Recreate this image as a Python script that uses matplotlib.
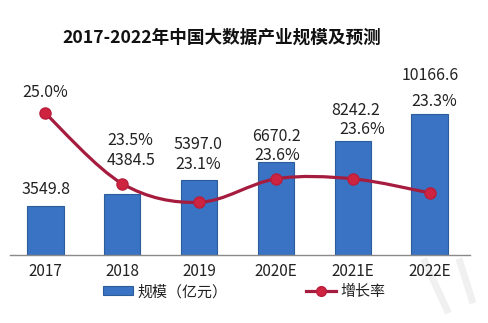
import matplotlib
matplotlib.use("Agg")
import matplotlib.pyplot as plt
import numpy as np
from matplotlib.path import Path
from matplotlib.patches import PathPatch
from matplotlib.lines import Line2D
from matplotlib.patches import Patch

plt.rcParams['font.family'] = ['Noto Sans CJK SC', 'DejaVu Sans']

categories = ["2017", "2018", "2019", "2020E", "2021E", "2022E"]
scale = [3549.8, 4384.5, 5397.0, 6670.2, 8242.2, 10166.6]
growth = [25.0, 23.5, 23.1, 23.6, 23.6, 23.3]
scale_labels = ["3549.8", "4384.5", "5397.0", "6670.2", "8242.2", "10166.6"]
growth_labels = ["25.0%", "23.5%", "23.1%", "23.6%", "23.6%", "23.3%"]

W, H = 488, 323
fig = plt.figure(figsize=(W / 100, H / 100), dpi=100)
L, R, T, B = 10, 470, 90, 255
ax = fig.add_axes([L / W, (H - B) / H, (R - L) / W, (B - T) / H])
ax2 = ax.twinx()

x = np.arange(len(categories))
bar_color = '#3A73C4'
ax.bar(x, scale, width=0.48, color=bar_color, edgecolor='#2C5C9C', linewidth=0.8, zorder=2)
ax.set_xlim(-0.455, 5.52)
ax.set_ylim(0, 11896)
ax2.set_ylim(21.98, 25.49)

# smooth line (Catmull-Rom as Bezier) through data points
pts = np.column_stack([x, growth]).astype(float)
verts = [tuple(pts[0])]
codes = [Path.MOVETO]
n = len(pts)
for i in range(n - 1):
    p0 = pts[max(i - 1, 0)]
    p1 = pts[i]
    p2 = pts[i + 1]
    p3 = pts[min(i + 2, n - 1)]
    c1 = p1 + (p2 - p0) / 6.0
    c2 = p2 - (p3 - p1) / 6.0
    verts += [tuple(c1), tuple(c2), tuple(p2)]
    codes += [Path.CURVE4] * 3
line_color = '#A51C3E'
ax2.add_patch(PathPatch(Path(verts, codes), facecolor='none', edgecolor=line_color, lw=2.3, zorder=3))
ax2.plot(x, growth, linestyle='none', marker='o', markersize=8, markerfacecolor='#CE2440',
         markeredgecolor='#B81E3C', zorder=4)

fs = 11.5
tc = '#222222'
# bar value labels: (dx in category units, dy offset in points)
bar_lab_off = [(0.01, 12), (0.12, 24), (-0.02, 26), (0.0, 19), (0.04, 22), (0.0, 28)]
for i, (dx, dy) in enumerate(bar_lab_off):
    ax.annotate(scale_labels[i], (x[i] + dx, scale[i]), xytext=(0, dy), textcoords='offset points',
                ha='center', va='center', fontsize=fs, color=tc, zorder=5)
# growth labels
gro_lab_off = [(0.0, None), (0.11, 39), (-0.01, 11), (0.01, 5), (0.12, 8), (0.05, 9)]
for i, (dx, dy) in enumerate(gro_lab_off):
    if dy is None:
        ax2.annotate(growth_labels[i], (x[i] + dx, growth[i]), xytext=(0, 15), textcoords='offset points',
                     ha='center', va='center', fontsize=fs, color=tc, zorder=5)
    else:
        ax.annotate(growth_labels[i], (x[i] + dx, scale[i]), xytext=(0, dy), textcoords='offset points',
                    ha='center', va='center', fontsize=fs, color=tc, zorder=5)

for a in (ax, ax2):
    for s in ['top', 'right', 'left']:
        a.spines[s].set_visible(False)
    a.set_yticks([])
ax2.spines['bottom'].set_visible(False)
ax.spines['bottom'].set_color('#8A8A8A')
ax.spines['bottom'].set_linewidth(1.0)
ax.set_xticks(x)
ax.set_xticklabels(categories, fontsize=11, color=tc)
ax.tick_params(axis='x', length=0, pad=6)

fig.text(222 / W, 1 - 38 / H, "2017-2022年中国大数据产业规模及预测", ha='center', va='center',
         fontsize=12.7, fontweight='bold', color='#111111')

handles = [Patch(facecolor=bar_color, edgecolor='#2C5C9C', linewidth=0.8),
           Line2D([0], [0], color=line_color, lw=2.3, marker='o', markersize=7,
                  markerfacecolor='#CE2440', markeredgecolor='#B81E3C')]
fig.legend(handles, ["规模（亿元）", "增长率"], loc='center', bbox_to_anchor=(244 / W, 1 - 292 / H),
           ncol=2, frameon=False, fontsize=10.8, handlelength=2.0, handleheight=0.55,
           handletextpad=0.3, columnspacing=5.2, labelcolor=tc)

# faint watermark strokes
for xs, ys in [((425, 447), (262, 310)), ((460, 472), (262, 300))]:
    fig.add_artist(Line2D([xs[0] / W, xs[1] / W], [1 - ys[0] / H, 1 - ys[1] / H],
                          transform=fig.transFigure, color='#F0F0F0', lw=5, zorder=0))

fig.savefig("out.png", dpi=100)
